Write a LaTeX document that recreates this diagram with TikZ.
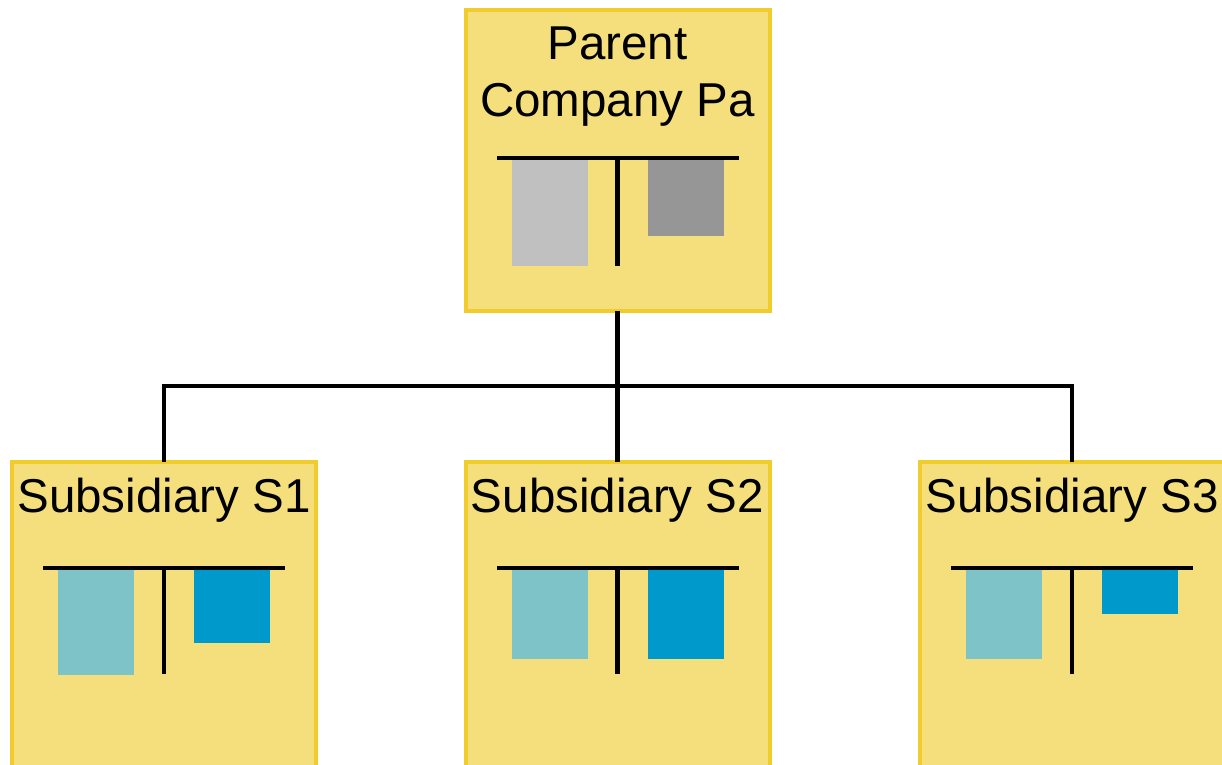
\documentclass[tikz,border=0pt]{standalone}
\usepackage{fontspec}
\setmainfont{Liberation Sans}
\usetikzlibrary{positioning}

\definecolor{boxfill}{HTML}{F4DF7C}
\definecolor{boxline}{HTML}{F0CD2C}
\definecolor{lgray}{HTML}{C0C0C0}
\definecolor{dgray}{HTML}{969696}
\definecolor{lteal}{HTML}{7DC3C8}
\definecolor{dblue}{HTML}{0099CC}

\tikzset{
  company/.style={rectangle, draw=boxline, fill=boxfill, line width=4pt, outer sep=0pt, minimum width=304pt},
  title/.style={inner sep=0pt, align=center, font=\fontsize{47.5}{57}\selectfont},
  bar/.style={line width=4.6pt},
}

\begin{document}
\begin{tikzpicture}[x=1pt, y=-1pt]
\useasboundingbox (0,0) rectangle (1222,764);

\node (pa) at (617.5,160) [company, minimum height=301pt] {};
\node (s1) at (164,616) [company, minimum height=308pt] {};
\node (s2) at (617.5,616) [company, minimum height=308pt] {};
\node (s3) at (1072,616) [company, minimum height=308pt] {};

\node (pat) [title, below=17pt of pa.north] {Parent\\Company Pa};
\node (s1t) [title, below=16pt of s1.north] {Subsidiary S1};
\node (s2t) [title, below=16pt of s2.north] {Subsidiary S2};
\node (s3t) [title, below=16pt of s3.north] {Subsidiary S3};

% tree connectors
\coordinate (bus) at (617.5,386);
\draw[bar] (pa.south) -- (s2.north);
\draw[bar] (s1.north) |- (bus) -| (s3.north);

% parent balance sheet
\fill[lgray] (512,160) rectangle (588,266);
\fill[dgray] (648,160) rectangle (724,236);
\draw[bar] (497,158) -- (739,158);
\draw[bar] (617.5,158) -- (617.5,266);

% S1 balance sheet
\fill[lteal] (58,570) rectangle (134,675);
\fill[dblue] (194,570) rectangle (270,643);
\draw[bar] (43,568) -- (285,568);
\draw[bar] (164,568) -- (164,674);

% S2 balance sheet
\fill[lteal] (512,570) rectangle (588,659);
\fill[dblue] (648,570) rectangle (724,659);
\draw[bar] (497,568) -- (739,568);
\draw[bar] (617.5,568) -- (617.5,674);

% S3 balance sheet
\fill[lteal] (966,570) rectangle (1042,659);
\fill[dblue] (1102,570) rectangle (1178,614);
\draw[bar] (951,568) -- (1193,568);
\draw[bar] (1072,568) -- (1072,674);

\end{tikzpicture}
\end{document}
